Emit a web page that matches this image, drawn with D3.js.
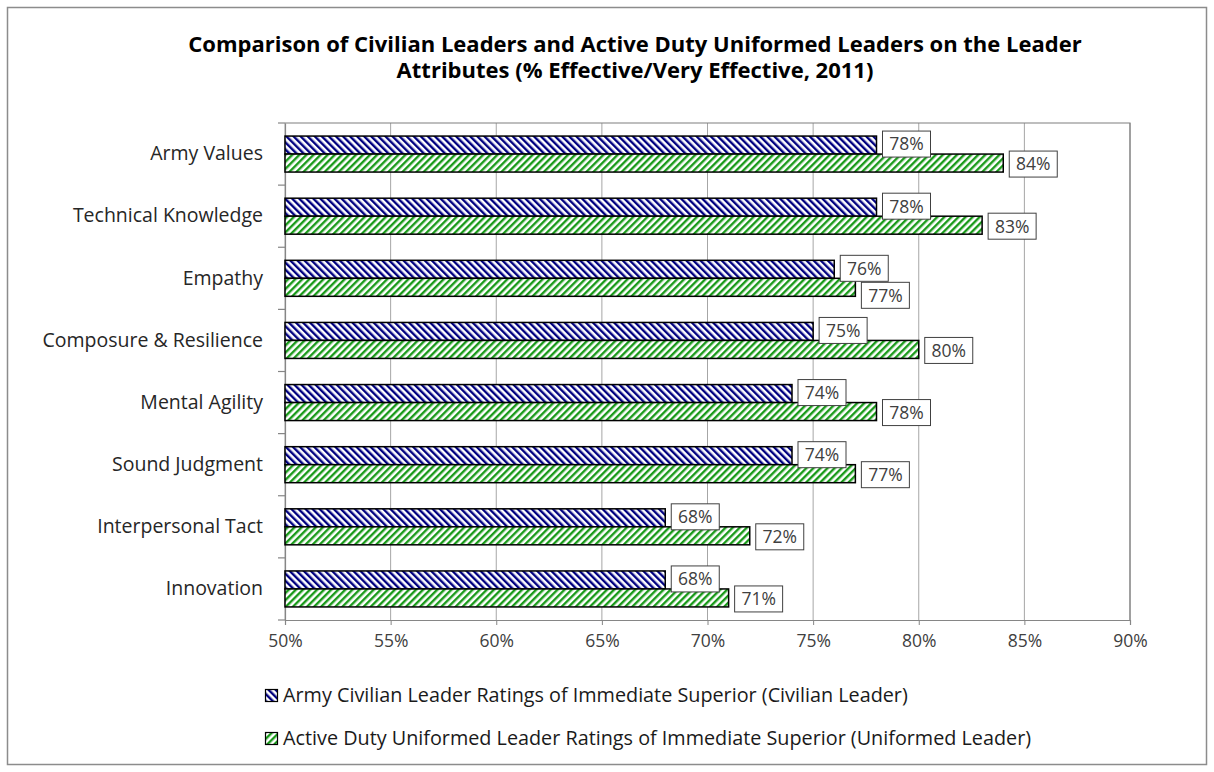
<!DOCTYPE html>
<html lang="en">
<head>
<meta charset="utf-8">
<title>Leader Attributes</title>
<script src="https://cdn.jsdelivr.net/npm/d3@7"></script>
<style>
  body { margin: 0; background: #fff; }
  text { font-family: "Open Sans", "Noto Sans", sans-serif; }
</style>
</head>
<body>
<script>
var categories = ["Army Values", "Technical Knowledge", "Empathy", "Composure & Resilience",
                  "Mental Agility", "Sound Judgment", "Interpersonal Tact", "Innovation"];
var civilian = [78, 78, 76, 75, 74, 74, 68, 68];
var uniformed = [84, 83, 77, 80, 78, 77, 72, 71];
var xTicks = [50, 55, 60, 65, 70, 75, 80, 85, 90];
var seriesNames = ["Army Civilian Leader Ratings of Immediate Superior (Civilian Leader)",
                   "Active Duty Uniformed Leader Ratings of Immediate Superior (Uniformed Leader)"];

var w = 1214, h = 772;
var plotL = 285, plotR = 1130, plotT = 123, plotB = 620;
var boxW = 48, boxH = 26;

var svg = d3.select("body").append("svg")
    .attr("width", w).attr("height", h);

var defs = svg.append("defs");
function hatch(id, color, angle) {
    var p = defs.append("pattern")
        .attr("id", id)
        .attr("patternUnits", "userSpaceOnUse")
        .attr("width", 5).attr("height", 5)
        .attr("patternTransform", "rotate(" + angle + ")");
    p.append("rect").attr("width", 5).attr("height", 5).attr("fill", "#fff");
    p.append("rect").attr("width", 2.4).attr("height", 5).attr("fill", color);
}
hatch("civ", "#000080", -45);
hatch("uni", "#1a9a1a", 45);

// outer border
svg.append("rect")
    .attr("x", 7.5).attr("y", 7.5)
    .attr("width", w - 15).attr("height", h - 15)
    .attr("fill", "none").attr("stroke", "#8c8c8c").attr("stroke-width", 1.5);

// title
var titleLines = ["Comparison of Civilian Leaders and Active Duty Uniformed Leaders on the Leader",
                  "Attributes (% Effective/Very Effective, 2011)"];
svg.append("g").selectAll("text")
    .data(titleLines)
    .enter()
    .append("text")
    .attr("x", 635)
    .attr("y", function(d, i) { return 52 + i * 26; })
    .attr("text-anchor", "middle")
    .attr("font-size", "22px").attr("font-weight", "bold").attr("fill", "#000")
    .text(function(d) { return d; });

var x = d3.scaleLinear().domain([50, 90]).range([plotL, plotR]);
var y = d3.scaleBand().domain(categories).range([plotT, plotB]);
var barH = 18;

// grid
svg.append("g").selectAll("line")
    .data(xTicks)
    .enter()
    .append("line")
    .attr("x1", function(d) { return x(d); })
    .attr("x2", function(d) { return x(d); })
    .attr("y1", plotT).attr("y2", plotB)
    .attr("stroke", "#a6a6a6").attr("stroke-width", 1);

// plot frame top/right
svg.append("path")
    .attr("d", "M" + plotL + "," + plotT + "H" + plotR + "V" + plotB)
    .attr("fill", "none").attr("stroke", "#7f7f7f").attr("stroke-width", 1.2);

// x axis
var xAxis = svg.append("g")
    .attr("transform", "translate(0," + plotB + ")")
    .call(d3.axisBottom(x).tickValues(xTicks).tickSize(5).tickPadding(10)
        .tickFormat(function(d) { return d + "%"; }));
xAxis.select(".domain").attr("stroke", "#868686").attr("stroke-width", 1.2);
xAxis.selectAll(".tick line").attr("stroke", "#868686");
xAxis.selectAll("text").attr("font-size", "17.5px").attr("fill", "#404040")
    .attr("font-family", "'Open Sans', sans-serif");

// y axis
var yAxis = svg.append("g")
    .attr("transform", "translate(" + plotL + ",0)")
    .call(d3.axisLeft(y).tickSize(0).tickPadding(22));
yAxis.select(".domain").attr("stroke", "#868686").attr("stroke-width", 1.2);
yAxis.selectAll("text").attr("font-size", "19.5px").attr("fill", "#262626")
    .attr("font-family", "'Open Sans', sans-serif");
// ticks at band boundaries
svg.append("g").selectAll("line")
    .data(d3.range(categories.length + 1))
    .enter()
    .append("line")
    .attr("x1", plotL - 7).attr("x2", plotL)
    .attr("y1", function(i) { return plotT + i * y.step(); })
    .attr("y2", function(i) { return plotT + i * y.step(); })
    .attr("stroke", "#868686").attr("stroke-width", 1.2);

function drawBars(values, fill, offset) {
    svg.append("g").selectAll("rect")
        .data(values)
        .enter()
        .append("rect")
        .attr("x", x(50))
        .attr("y", function(d, i) { return y(categories[i]) + y.bandwidth() / 2 - barH + offset; })
        .attr("width", function(d) { return x(d) - x(50); })
        .attr("height", barH)
        .attr("fill", "url(#" + fill + ")")
        .attr("stroke", "#000").attr("stroke-width", 1.5);
}
// centre of the blue label; green label drops below it when the boxes would collide
function civCenter(i) { return y(categories[i]) + y.bandwidth() / 2 - barH / 2 - 1; }
function uniCenter(i) {
    var c = y(categories[i]) + y.bandwidth() / 2 + barH / 2 + 1;
    var overlapX = Math.abs(x(uniformed[i]) - x(civilian[i])) < boxW;
    if (overlapX) c = Math.max(c, civCenter(i) + boxH + 1);
    return c;
}
function drawLabels(values, centerFn) {
    var lab = svg.append("g").selectAll("g")
        .data(values)
        .enter()
        .append("g")
        .attr("transform", function(d, i) {
            return "translate(" + (x(d) + 6) + "," + centerFn(i) + ")";
        });
    lab.append("rect")
        .attr("x", 0).attr("y", -boxH / 2)
        .attr("width", boxW).attr("height", boxH)
        .attr("fill", "#fff").attr("stroke", "#404040").attr("stroke-width", 1);
    lab.append("text")
        .attr("x", boxW / 2).attr("y", 6.3)
        .attr("text-anchor", "middle")
        .attr("font-size", "17.5px").attr("fill", "#404040")
        .text(function(d) { return d + "%"; });
}
drawBars(civilian, "civ", 0);
drawBars(uniformed, "uni", barH);
drawLabels(uniformed, uniCenter);
drawLabels(civilian, civCenter);

// legend
var legend = svg.append("g").selectAll("g")
    .data(seriesNames)
    .enter()
    .append("g")
    .attr("transform", function(d, i) { return "translate(265," + (702 + i * 43) + ")"; });
legend.append("rect")
    .attr("x", 0.5).attr("y", -12.5)
    .attr("width", 12).attr("height", 12)
    .attr("fill", function(d, i) { return i === 0 ? "url(#civ)" : "url(#uni)"; })
    .attr("stroke", "#000").attr("stroke-width", 1.2);
legend.append("text")
    .attr("x", 18).attr("y", 0)
    .attr("font-size", "19.8px").attr("fill", "#1a1a1a")
    .text(function(d) { return d; });
</script>
</body>
</html>
